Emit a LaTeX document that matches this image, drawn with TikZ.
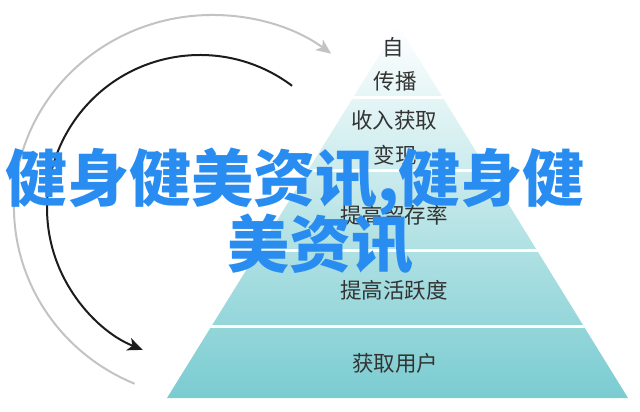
\documentclass[tikz,border=0pt]{standalone}
\usepackage{fontspec}
\setmainfont{Noto Sans CJK SC}
\usepackage{xcolor}
\definecolor{Col1}{RGB}{40,140,240}
\definecolor{Col2}{RGB}{122,204,209}
\definecolor{Col3}{RGB}{195,195,195}
\definecolor{Col4}{RGB}{28,28,28}
\usetikzlibrary{arrows.meta}
\tikzstyle{Level}=[text=black!80,inner sep=0pt,
font=\fontsize{21.5}{21.5}\selectfont]
\tikzstyle{Title}=[text=Col1,inner sep=0pt,anchor=west,
font=\fontsize{62}{62}\selectfont\bfseries]
\tikzstyle{Gap}=[draw=white,line width=3pt]
\tikzstyle{Turn}=[line width=2pt,
-{Stealth[length=15pt,width=13pt,inset=4pt]}]

\begin{document}
\begin{tikzpicture}[x=1pt,y=-1pt]
        \useasboundingbox(0,0)rectangle(640,412);
        \coordinate(a)at(398,25);
        \coordinate(l)at(167,398);
        \coordinate(r)at(628,398);
        \shade[top color=white,bottom color=Col2](a)--(r)--(l)--cycle;
        \begin{scope}
            \clip(a)--(r)--(l)--cycle;
            \foreach \y in {97,170,250,326}
                \draw[Gap](0,\y)--(640,\y);
        \end{scope}
        \node[Level](1)at(393,47){自};
        \node[Level](2)at(395,81){传播};
        \node[Level](3)at(394,120){收入获取};
        \node[Level](4)at(395,155){变现};
        \node[Level](5)at(394,215){提高留存率};
        \node[Level](6)at(394,290){提高活跃度};
        \node[Level](7)at(395,363){获取用户};
        \coordinate(c1)at(212,207);
        \coordinate(c2)at(200,208);
        \draw[Turn,Col3](c1)++(113:198 and 192)
            arc[start angle=113,end angle=307,x radius=198,y radius=192];
        \draw[Turn,Col4](c2)++(307:153)
            arc[start angle=307,end angle=112,radius=153];
        \node[Title](t1)at(5,182){健身健美资讯,健身健};
        \node[Title](t2)at(227,244){美资讯};
    \end{tikzpicture}
\end{document}
